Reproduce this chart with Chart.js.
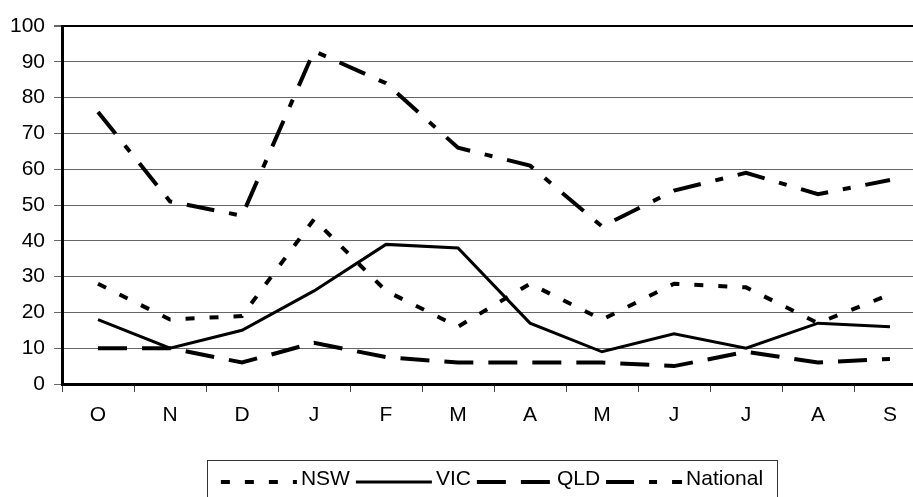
<!DOCTYPE html>
<html>
<head>
<meta charset="utf-8">
<script src="https://cdn.jsdelivr.net/npm/chart.js@4.4.0/dist/chart.umd.min.js"></script>
<style>
  html, body { margin: 0; padding: 0; background: #fff; overflow: hidden; }
  canvas { display: block; }
</style>
</head>
<body>
<canvas id="chart" width="940" height="497"></canvas>
<script>
"use strict";

const months = ["O", "N", "D", "J", "F", "M", "A", "M", "J", "J", "A", "S"];
const nsw = [28, 18, 19, 46, 26, 16, 28, 18, 28, 27, 17, 25];
const vic = [18, 10, 15, 26, 39, 38, 17, 9, 14, 10, 17, 16];
const qld = [10, 10, 6, 11.5, 7.5, 6, 6, 6, 5, 9, 6, 7];
const national = [76, 51, 47, 93, 84, 66, 61, 44, 54, 59, 53, 57];

const FONT = '"Liberation Sans", Arial, sans-serif';

// boxed legend below the plot, like the original
const boxLegend = {
  id: "boxLegend",
  afterDraw(chart) {
    const ctx = chart.ctx;
    const area = chart.chartArea;
    const sets = chart.data.datasets;
    const lineLen = 76, gapText = 4, gapItem = 6;
    ctx.save();
    ctx.font = "21px " + FONT;
    let total = 0;
    sets.forEach((ds, i) => {
      total += lineLen + gapText + ctx.measureText(ds.label).width;
      if (i < sets.length - 1) total += gapItem;
    });
    const cx = (area.left + area.right) / 2 - 2;
    const boxW = 570;
    const top = 460;
    ctx.strokeStyle = "#333";
    ctx.lineWidth = 1;
    ctx.strokeRect(Math.round(cx - boxW / 2) + 0.5, top + 0.5, boxW, 60);

    let x = cx - total / 2;
    const ly = 482;
    sets.forEach((ds) => {
      ctx.beginPath();
      ctx.setLineDash(ds.borderDash || []);
      ctx.lineWidth = ds.borderWidth;
      ctx.strokeStyle = "#000";
      ctx.lineCap = "butt";
      ctx.moveTo(x, ly);
      ctx.lineTo(x + lineLen, ly);
      ctx.stroke();
      x += lineLen + gapText;
      ctx.setLineDash([]);
      ctx.fillStyle = "#000";
      ctx.textBaseline = "middle";
      ctx.textAlign = "left";
      ctx.fillText(ds.label, x, 479);
      x += ctx.measureText(ds.label).width + gapItem;
    });
    ctx.restore();
  },
};

new Chart(document.getElementById("chart"), {
  type: "line",
  data: {
    labels: months,
    datasets: [
      { label: "NSW", data: nsw, borderColor: "#000", borderWidth: 4, borderDash: [9, 15] },
      { label: "VIC", data: vic, borderColor: "#000", borderWidth: 3, borderDash: [] },
      { label: "QLD", data: qld, borderColor: "#000", borderWidth: 4, borderDash: [29, 15] },
      { label: "National", data: national, borderColor: "#000", borderWidth: 4, borderDash: [28, 15, 8, 15] },
    ],
  },
  options: {
    responsive: false,
    animation: false,
    devicePixelRatio: 1,
    layout: { padding: { top: 26, right: 14, bottom: 63, left: 0 } },
    elements: {
      point: { radius: 0, hoverRadius: 0 },
      line: { tension: 0, fill: false, borderCapStyle: "butt", borderJoinStyle: "miter" },
    },
    plugins: {
      legend: { display: false },
      tooltip: { enabled: false },
    },
    scales: {
      x: {
        offset: true,
        afterFit: (scale) => { scale.height = 50; },
        grid: { offset: true, drawOnChartArea: false, drawTicks: true, tickLength: 8, color: "#444", lineWidth: 1 },
        border: { color: "#000", width: 3 },
        ticks: { color: "#000", padding: 11, font: { family: FONT, size: 21 }, maxRotation: 0, autoSkip: false },
      },
      y: {
        min: 0,
        max: 100,
        afterFit: (scale) => { scale.width = 62; },
        grid: {
          color: (c) => (c.tick && c.tick.value === 100 ? "#000" : "#666"),
          lineWidth: (c) => (c.tick && c.tick.value === 100 ? 2 : 1),
          tickLength: 8,
          tickColor: "#666",
        },
        border: { color: "#000", width: 3 },
        ticks: { stepSize: 10, color: "#000", padding: 9, font: { family: FONT, size: 21 } },
      },
    },
  },
  plugins: [boxLegend],
});
</script>
</body>
</html>
